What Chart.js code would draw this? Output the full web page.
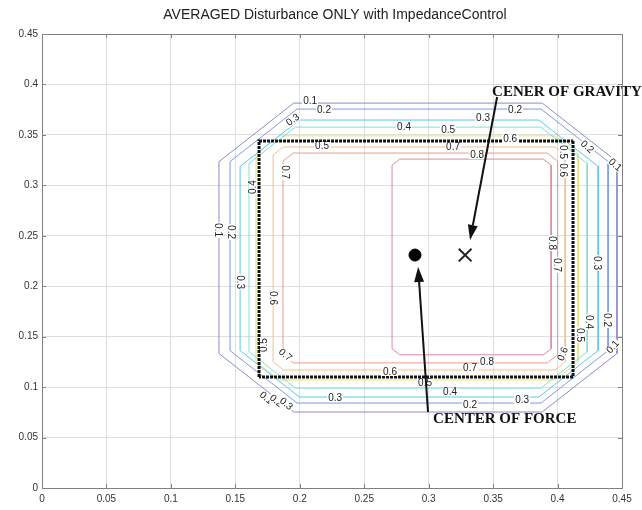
<!DOCTYPE html>
<html>
<head>
<meta charset="utf-8">
<script src="https://cdn.jsdelivr.net/npm/chart.js@4"></script>
<style>
html, body { margin: 0; padding: 0; background: #fff; }
</style>
</head>
<body>
<canvas id="myChart" width="642" height="510"></canvas>
<script>
/* global Chart */

// contour levels and their (chamfered) boxes: left, right, bottom, top, corner cut
let levels = [0.1, 0.2, 0.3, 0.4, 0.5, 0.6, 0.7, 0.8];
let boxLeft = [0.1373, 0.1459, 0.1537, 0.1606, 0.1660, 0.1793, 0.1870, 0.2716];
let boxRight = [0.4461, 0.4392, 0.4315, 0.4230, 0.4160, 0.4059, 0.4000, 0.3950];
let boxBottom = [0.0753, 0.0842, 0.0902, 0.0990, 0.1070, 0.1170, 0.1240, 0.1320];
let boxTop = [0.3815, 0.3756, 0.3647, 0.3577, 0.3490, 0.3380, 0.3320, 0.3260];
let boxCut = [0.058, 0.052, 0.046, 0.036, 0.018, 0.008, 0.008, 0.006];
let levelColors = ['#8c8cc8', '#7b9be6', '#5cc6ee', '#7fe0cf', '#e2e27a', '#f2c08c', '#ef9a8a', '#d98c9c'];

// contour labels: value, x, y, text angle
let labelValue = [0.1, 0.2, 0.3, 0.4, 0.5, 0.5, 0.6, 0.7, 0.8, 0.3, 0.2, 0.4, 0.7, 0.1, 0.2, 0.3, 0.6, 0.5, 0.7,
  0.1, 0.2, 0.3, 0.3, 0.6, 0.5, 0.4, 0.2, 0.3, 0.7, 0.8, 0.8, 0.7, 0.3, 0.2, 0.4, 0.5, 0.6, 0.1, 0.1, 0.2, 0.5, 0.6];
let labelX = [0.2080, 0.2188, 0.1948, 0.2809, 0.2173, 0.3151, 0.3632, 0.3189, 0.3376, 0.3422, 0.3670, 0.1637, 0.1886, 0.1366, 0.1467, 0.1536, 0.1793, 0.1723, 0.1886,
  0.1738, 0.1816, 0.1893, 0.2274, 0.2700, 0.2972, 0.3166, 0.3321, 0.3725, 0.3321, 0.3453, 0.3958, 0.3996, 0.4307, 0.4384, 0.4245, 0.4175, 0.4043, 0.4431, 0.4446, 0.4229, 0.4043, 0.4043];
let labelY = [0.3835, 0.3746, 0.3647, 0.3577, 0.3389, 0.3548, 0.3459, 0.3380, 0.3300, 0.3667, 0.3746, 0.2983, 0.3131, 0.2557, 0.2537, 0.2041, 0.1883, 0.1417, 0.1318,
  0.0892, 0.0862, 0.0832, 0.0892, 0.1150, 0.1041, 0.0951, 0.0823, 0.0872, 0.1189, 0.1249, 0.2428, 0.2210, 0.2230, 0.1665, 0.1645, 0.1516, 0.1328, 0.1397, 0.3201, 0.3379, 0.3330, 0.3151];
let labelAngle = [0, 0, -36, 0, 0, 0, 0, 0, 0, 0, 0, -90, 90, 90, 90, 90, 90, -90, 40,
  40, 40, 40, 0, 0, 0, 0, 0, 0, 0, 0, 90, 90, 90, 90, 90, 90, -70, -49, 42, 42, 90, 90];

// load plate, centres and pointers
let plateX = [0.1684, 0.412];
let plateY = [0.110, 0.344];
let forceCenter = { x: 0.2894, y: 0.2309 };
let gravityCenter = { x: 0.3283, y: 0.2309 };
let gravityArrow = [{ x: 0.3531, y: 0.3875 }, { x: 0.3321, y: 0.2458 }];
let forceArrow = [{ x: 0.2995, y: 0.0753 }, { x: 0.2918, y: 0.2190 }];
let gravityText = { text: 'CENER OF GRAVITY', x: 0.3492, y: 0.3924 };
let forceText = { text: 'CENTER OF FORCE', x: 0.3034, y: 0.0684 };

let tickValues = [0, 0.05, 0.1, 0.15, 0.2, 0.25, 0.3, 0.35, 0.4, 0.45];

function octagon(l, r, b, t, c) {
  return [
    { x: l + c, y: t }, { x: r - c, y: t }, { x: r, y: t - c }, { x: r, y: b + c },
    { x: r - c, y: b }, { x: l + c, y: b }, { x: l, y: b + c }, { x: l, y: t - c }, { x: l + c, y: t }
  ];
}

let datasets = [];
for (let i = 0; i < levels.length; i++) {
  datasets.push({
    label: 'level ' + levels[i],
    data: octagon(boxLeft[i], boxRight[i], boxBottom[i], boxTop[i], boxCut[i]),
    showLine: true,
    borderColor: levelColors[i],
    borderWidth: 1,
    pointRadius: 0,
    order: 3
  });
}
datasets.push({
  label: 'plate',
  data: octagon(plateX[0], plateX[1], plateY[0], plateY[1], 0),
  showLine: true,
  borderColor: '#111',
  borderWidth: 3,
  borderDash: [3, 1],
  pointRadius: 0,
  order: 2
});
datasets.push({
  label: 'center of force',
  data: [forceCenter],
  pointStyle: 'circle',
  pointRadius: 6,
  backgroundColor: '#000',
  borderColor: '#000',
  order: 1
});
datasets.push({
  label: 'center of gravity',
  data: [gravityCenter],
  pointStyle: 'crossRot',
  pointRadius: 9,
  borderWidth: 2,
  borderColor: '#222',
  order: 1
});

function fmt(v) {
  return String(Math.round(v * 100) / 100);
}

// frame, inward ticks, contour labels, arrows and texts
let extras = {
  id: 'extras',
  afterDatasetsDraw(chart) {
    let ctx = chart.ctx;
    let xs = chart.scales.x, ys = chart.scales.y;
    let a = chart.chartArea;

    ctx.save();
    ctx.font = '10px "Liberation Sans", Arial, sans-serif';
    ctx.textAlign = 'center';
    ctx.textBaseline = 'middle';
    for (let i = 0; i < labelValue.length; i++) {
      let px = xs.getPixelForValue(labelX[i]);
      let py = ys.getPixelForValue(labelY[i]);
      let txt = fmt(labelValue[i]);
      let w = ctx.measureText(txt).width;
      ctx.save();
      ctx.translate(px, py);
      ctx.rotate(labelAngle[i] * Math.PI / 180);
      ctx.fillStyle = '#fff';
      ctx.fillRect(-w / 2 - 1, -4, w + 2, 8);
      ctx.fillStyle = '#222';
      ctx.fillText(txt, 0, 0);
      ctx.restore();
    }
    ctx.restore();

    // arrows
    [gravityArrow, forceArrow].forEach(function (arr) {
      let x0 = xs.getPixelForValue(arr[0].x), y0 = ys.getPixelForValue(arr[0].y);
      let x1 = xs.getPixelForValue(arr[1].x), y1 = ys.getPixelForValue(arr[1].y);
      let ang = Math.atan2(y1 - y0, x1 - x0);
      let len = 15, half = 5;
      let bx = x1 - len * Math.cos(ang), by = y1 - len * Math.sin(ang);
      ctx.save();
      ctx.strokeStyle = '#111';
      ctx.fillStyle = '#111';
      ctx.lineWidth = 2;
      ctx.beginPath();
      ctx.moveTo(x0, y0);
      ctx.lineTo(bx, by);
      ctx.stroke();
      ctx.beginPath();
      ctx.moveTo(x1, y1);
      ctx.lineTo(bx + half * Math.sin(ang), by - half * Math.cos(ang));
      ctx.lineTo(bx - half * Math.sin(ang), by + half * Math.cos(ang));
      ctx.closePath();
      ctx.fill();
      ctx.restore();
    });

    // pointer texts
    ctx.save();
    ctx.font = 'bold 15px "Liberation Serif", "DejaVu Serif", serif';
    ctx.fillStyle = '#111';
    ctx.textAlign = 'left';
    ctx.textBaseline = 'middle';
    [gravityText, forceText].forEach(function (t) {
      ctx.fillText(t.text, xs.getPixelForValue(t.x), ys.getPixelForValue(t.y));
    });
    ctx.restore();

    // axes box and inward ticks
    ctx.save();
    ctx.strokeStyle = '#808080';
    ctx.lineWidth = 1;
    ctx.strokeRect(a.left + 0.5, a.top + 0.5, a.right - a.left, a.bottom - a.top);
    ctx.beginPath();
    tickValues.forEach(function (v) {
      let px = Math.round(xs.getPixelForValue(v)) + 0.5;
      ctx.moveTo(px, a.bottom); ctx.lineTo(px, a.bottom - 4);
      ctx.moveTo(px, a.top); ctx.lineTo(px, a.top + 4);
      let py = Math.round(ys.getPixelForValue(v)) + 0.5;
      ctx.moveTo(a.left, py); ctx.lineTo(a.left + 4, py);
      ctx.moveTo(a.right, py); ctx.lineTo(a.right - 4, py);
    });
    ctx.stroke();
    ctx.restore();

    // title
    ctx.save();
    ctx.font = '14px "Liberation Sans", Arial, sans-serif';
    ctx.fillStyle = '#222';
    ctx.textAlign = 'center';
    ctx.textBaseline = 'middle';
    ctx.fillText('AVERAGED Disturbance ONLY with ImpedanceControl', 335, 15);
    ctx.restore();
  }
};

let axisTicks = {
  stepSize: 0.05,
  color: '#333',
  font: { family: '"Liberation Sans", Arial, sans-serif', size: 10 },
  callback: function (v) { return fmt(v); }
};

var ctx = document.getElementById('myChart').getContext('2d');
var myChart = new Chart(ctx, {
  type: 'scatter',
  data: { datasets: datasets },
  options: {
    responsive: false,
    animation: false,
    layout: { padding: { top: 34, right: 20, left: 0, bottom: 0 } },
    plugins: { legend: { display: false }, tooltip: { enabled: false } },
    scales: {
      x: {
        type: 'linear', min: 0, max: 0.45,
        ticks: Object.assign({ padding: 5, maxRotation: 0 }, axisTicks),
        grid: { color: '#dedede', drawTicks: false },
        border: { display: false },
        afterFit: function (s) { s.height = 22; }
      },
      y: {
        type: 'linear', min: 0, max: 0.45,
        ticks: Object.assign({ padding: 4 }, axisTicks),
        grid: { color: '#dedede', drawTicks: false },
        border: { display: false },
        afterFit: function (s) { s.width = 42; }
      }
    }
  },
  plugins: [extras]
});
</script>
</body>
</html>
